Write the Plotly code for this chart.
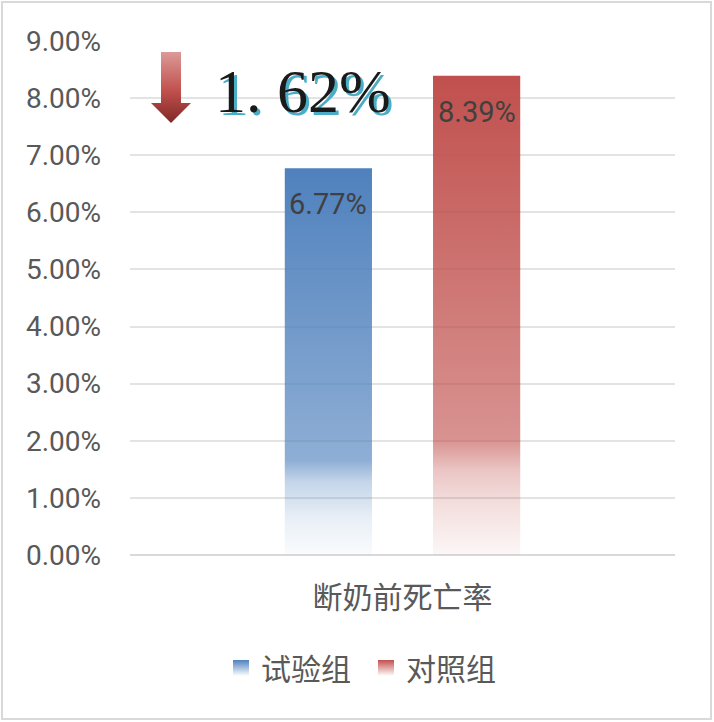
import base64
import plotly.graph_objects as go

# ---- data ----
category = "断奶前死亡率"
groups = ["试验组", "对照组"]
values = [0.0677, 0.0839]
value_labels = ["6.77%", "8.39%"]
diff_label = "1. 62%"

# ---- styling ----
bar_spans = [(0.284, 0.444), (0.556, 0.716)]  # bar placement on the numeric x scale
base_rgb = ["79,129,189", "192,80,77"]
alpha_stops = [
    [(0, 0.03), (0.09, 0.12), (0.19, 0.335), (0.245, 0.64), (1, 1.0)],
    [(0, 0.046), (0.114, 0.20), (0.177, 0.33), (0.24, 0.62), (1, 1.0)],
]
legend_top = ["#4f81bd", "#c0504d"]
legend_bottom = ["#ffffff", "#ffffff"]

fig = go.Figure()

for i, g in enumerate(groups):
    x0, x1 = bar_spans[i]
    v = values[i]
    cs = [[p, f"rgba({base_rgb[i]},{a})"] for p, a in alpha_stops[i]]
    fig.add_trace(go.Scatter(
        x=[x0, x0, x1, x1, x0], y=[0, v, v, 0, 0],
        fill="toself", mode="none",
        fillgradient=dict(type="vertical", colorscale=cs),
        name=g, legendgroup=g, showlegend=False, hoverinfo="skip",
    ))

for i, g in enumerate(groups):
    fig.add_trace(go.Scatter(
        x=[None], y=[None], mode="markers", name=g, legendgroup=g,
        marker=dict(symbol="square", size=16, color=legend_top[i],
                    gradient=dict(type="vertical", color=legend_bottom[i]),
                    line=dict(width=0)),
    ))

# data labels inside bar tops
for i, v in enumerate(values):
    x0, x1 = bar_spans[i]
    fig.add_annotation(x=(x0 + x1) / 2, y=v, xref="x", yref="y",
                       text=value_labels[i], showarrow=False,
                       xanchor="center", yanchor="middle", yshift=-36,
                       font=dict(family="Roboto", size=29, color="#404040"))

# difference label with teal drop shadow
fig.add_annotation(x=0.3174, y=0.9018, xref="paper", yref="paper", text=diff_label,
                   showarrow=False, xanchor="center", yanchor="middle",
                   font=dict(family="Liberation Serif", size=62, color="#1a1a1a",
                             shadow="3px 3px 0px #4bacc6"))

# arrow image
svg = ('<svg xmlns="http://www.w3.org/2000/svg" width="40" height="71" viewBox="0 0 40 71">'
       '<defs><linearGradient id="g" x1="0" y1="0" x2="0" y2="1">'
       '<stop offset="0" stop-color="#dc9a98"/><stop offset="0.55" stop-color="#c0504d"/>'
       '<stop offset="1" stop-color="#7f2826"/></linearGradient></defs>'
       '<path d="M10,0 H30 V51 H40 L20,71 L0,51 H10 Z" fill="url(#g)"/></svg>')
src = "data:image/svg+xml;base64," + base64.b64encode(svg.encode()).decode()
fig.add_layout_image(source=src, xref="paper", yref="paper",
                     x=(151 - 130) / 545, y=(555 - 52) / 514,
                     sizex=40 / 545, sizey=71 / 514,
                     xanchor="left", yanchor="top", sizing="stretch", layer="above")

# outer frame
fig.add_shape(type="rect", xref="paper", yref="paper",
              x0=(2 - 130) / 545, x1=(711 - 130) / 545,
              y0=(555 - 719) / 514, y1=(555 - 2) / 514,
              line=dict(color="#d9d9d9", width=2), fillcolor="rgba(0,0,0,0)")

fig.update_layout(
    width=714, height=722,
    margin=dict(l=130, r=39, t=41, b=167),
    paper_bgcolor="white", plot_bgcolor="white",
    showlegend=True,
    legend=dict(orientation="h", x=0.167, xanchor="left", y=-0.2198, yanchor="middle",
                entrywidth=100, entrywidthmode="pixels",
                font=dict(family="Noto Sans CJK SC", size=30, color="#595959"),
                itemclick=False, itemdoubleclick=False),
    hovermode=False,
)
fig.update_xaxes(range=[0, 1], tickvals=[0.5], ticktext=[category],
                 showgrid=False, zeroline=False, showline=False,
                 ticklabelstandoff=22,
                 tickfont=dict(family="Noto Sans CJK SC", size=30, color="#595959"),
                 fixedrange=True)
fig.update_yaxes(range=[0, 0.09], dtick=0.01, tickformat=".2%",
                 showgrid=True, gridcolor="#e3e3e3", gridwidth=2,
                 zeroline=True, zerolinecolor="#d9d9d9", zerolinewidth=2,
                 showline=False, ticklabelstandoff=28,
                 tickfont=dict(family="Roboto", size=28, color="#595959"),
                 fixedrange=True)

fig.write_html("out.html", config={"displayModeBar": False},
               post_script="document.body.style.margin='0';")
